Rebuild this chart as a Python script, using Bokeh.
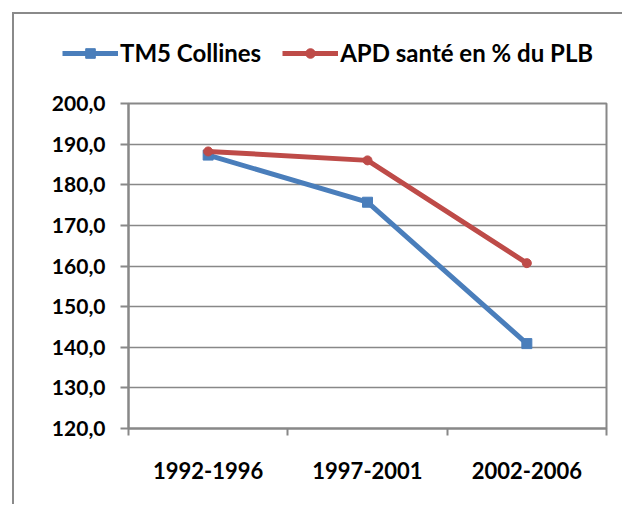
from bokeh.plotting import figure
from bokeh.models import (FactorRange, Range1d, LinearAxis, FixedTicker,
                          Grid, Legend, LegendItem)
from bokeh.embed import file_html
from bokeh.resources import INLINE

# ---- data ----
categories = ["1992-1996", "1997-2001", "2002-2006"]
tm5_collines = [187.3, 175.7, 140.9]
apd_sante = [188.2, 186.0, 160.7]
series_names = ["TM5 Collines", "APD santé en % du PLB"]
y_ticks = [120, 130, 140, 150, 160, 170, 180, 190, 200]
y_tick_labels = ["120,0", "130,0", "140,0", "150,0", "160,0", "170,0", "180,0", "190,0", "200,0"]

BLUE = "#4A7EBB"
RED = "#BE4B48"
GREY = "#888888"
FRAME = "2px solid #8a8a8a"
FONT = "Lato"

# ---------- legend strip (series drawn out of view, only the legend shows) ----------
leg = figure(width=610, height=70,
             x_range=FactorRange(factors=categories, range_padding=0), y_range=Range1d(0, 1),
             output_backend="svg", toolbar_location=None,
             x_axis_location=None, y_axis_location=None,
             min_border_left=0, min_border_right=0, min_border_top=0, min_border_bottom=0)
leg.margin = (12, 0, 0, 12)
leg.styles = {"border-left": FRAME, "border-top": FRAME}
leg.outline_line_color = None
leg.grid.visible = False
leg.border_fill_color = "white"
leg.background_fill_color = "white"

k1 = leg.line(categories, tm5_collines, line_color=BLUE, line_width=5)
k1m = leg.scatter(categories, tm5_collines, marker="square", size=10, fill_color=BLUE, line_color=BLUE)
k2 = leg.line(categories, apd_sante, line_color=RED, line_width=5)
k2m = leg.scatter(categories, apd_sante, marker="circle", size=9, fill_color=RED, line_color=RED)

legend = Legend(items=[LegendItem(label=series_names[0], renderers=[k1, k1m]),
                       LegendItem(label=series_names[1], renderers=[k2, k2m])],
                location=(48, 17), orientation="horizontal",
                glyph_width=56, glyph_height=24,
                label_standoff=2, padding=0, margin=0, spacing=21,
                border_line_color=None, background_fill_alpha=0,
                label_text_font=FONT, label_text_font_style="bold",
                label_text_font_size="24px", label_text_color="black")
leg.add_layout(legend, "center")

# ---------- main chart ----------
p = figure(width=610, height=422,
           x_range=FactorRange(factors=categories, range_padding=0),
           y_range=Range1d(y_ticks[0], y_ticks[-1]),
           output_backend="svg", toolbar_location=None,
           x_axis_location=None, y_axis_location=None,
           min_border_left=114, min_border_right=18,
           min_border_top=21, min_border_bottom=76)
p.margin = (0, 0, 0, 12)
p.styles = {"border-left": FRAME}
p.background_fill_color = "white"
p.border_fill_color = "white"
p.outline_line_color = GREY
p.outline_line_width = 2
p.grid.visible = False

y_ticker = FixedTicker(ticks=y_ticks, minor_ticks=[])
yaxis = LinearAxis(ticker=y_ticker,
                   major_label_overrides={t: l for t, l in zip(y_ticks, y_tick_labels)},
                   axis_line_color=GREY, axis_line_width=2,
                   major_tick_line_color=GREY, major_tick_line_width=2,
                   major_tick_out=8, major_tick_in=0,
                   minor_tick_line_color=None,
                   major_label_standoff=15,
                   major_label_text_font=FONT, major_label_text_font_style="bold",
                   major_label_text_font_size="21px", major_label_text_color="black")
p.add_layout(yaxis, "left")

p.add_layout(Grid(dimension=1, ticker=y_ticker, grid_line_color=GREY, grid_line_width=1.5))

# x axis: labels at category centres, tick marks at category boundaries
centres = [i + 0.5 for i in range(len(categories))]
bounds = list(range(len(categories) + 1))
xaxis = LinearAxis(ticker=FixedTicker(ticks=centres, minor_ticks=bounds),
                   major_label_overrides={c: lab for c, lab in zip(centres, categories)},
                   axis_line_color=GREY, axis_line_width=2,
                   major_tick_line_color=None, major_tick_out=0, major_tick_in=0,
                   minor_tick_line_color=GREY, minor_tick_line_width=2,
                   minor_tick_out=7, minor_tick_in=0,
                   major_label_standoff=26,
                   major_label_text_font=FONT, major_label_text_font_style="bold",
                   major_label_text_font_size="22px", major_label_text_color="black")
p.add_layout(xaxis, "below")

p.line(categories, tm5_collines, line_color=BLUE, line_width=5)
p.scatter(categories, tm5_collines, marker="square", size=10, fill_color=BLUE, line_color=BLUE)
p.line(categories, apd_sante, line_color=RED, line_width=5)
p.scatter(categories, apd_sante, marker="circle", size=9, fill_color=RED, line_color=RED)

open("out.html", "w").write(file_html([leg, p], INLINE))
